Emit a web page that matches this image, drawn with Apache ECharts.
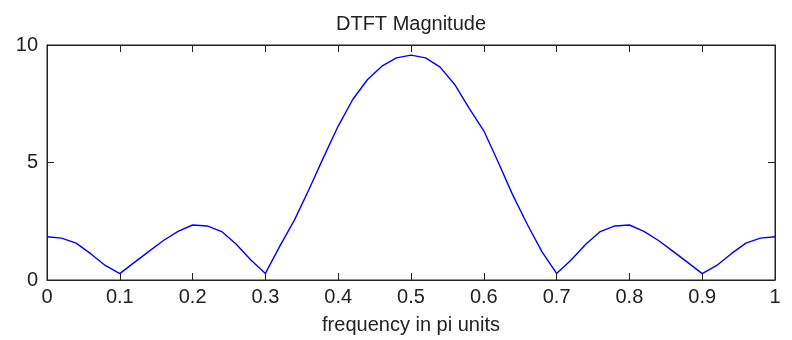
<!DOCTYPE html>
<html>
<head>
<meta charset="utf-8">
<script src="https://cdn.jsdelivr.net/npm/echarts@6/dist/echarts.min.js"></script>
<style>
  html, body { margin: 0; padding: 0; background: #fff; }
  #chart { width: 792px; height: 340px; }
</style>
</head>
<body>
<div id="chart"></div>
<script>
// frequency samples (pi units) and magnitude
const freqs = [
  0.00, 0.02, 0.04, 0.06, 0.08, 0.10, 0.12, 0.14, 0.16, 0.18,
  0.20, 0.22, 0.24, 0.26, 0.28, 0.30, 0.32, 0.34, 0.36, 0.38,
  0.40, 0.42, 0.44, 0.46, 0.48, 0.50, 0.52, 0.54, 0.56, 0.58,
  0.60, 0.62, 0.64, 0.66, 0.68, 0.70, 0.72, 0.74, 0.76, 0.78,
  0.80, 0.82, 0.84, 0.86, 0.88, 0.90, 0.92, 0.94, 0.96, 0.98, 1.00
];
const magnitude = [
  1.84, 1.78, 1.57, 1.12, 0.62, 0.27, 0.75, 1.22, 1.68, 2.07,
  2.34, 2.30, 2.06, 1.52, 0.85, 0.28, 1.45, 2.56, 3.86, 5.23,
  6.55, 7.68, 8.52, 9.10, 9.45, 9.57, 9.45, 9.06, 8.32, 7.30,
  6.35, 5.00, 3.60, 2.35, 1.20, 0.28, 0.85, 1.52, 2.06, 2.30,
  2.34, 2.07, 1.68, 1.22, 0.75, 0.27, 0.62, 1.12, 1.57, 1.78, 1.84
];

const axisColor = "#222";
const labelFont = { color: "#222", fontSize: 20, fontFamily: "Liberation Sans" };

const chart = echarts.init(document.getElementById("chart"), null, { renderer: "canvas" });

function fmtX(v) {
  const r = Math.round(v * 10) / 10;
  return r === 0 ? "0" : r === 1 ? "1" : r.toFixed(1);
}

const xCommon = {
  type: "value",
  min: 0,
  max: 1,
  interval: 0.1,
  splitLine: { show: false },
  axisLine: { show: true, onZero: false, lineStyle: { color: axisColor, width: 1 } },
  axisTick: { show: true, inside: true, length: 7, lineStyle: { color: axisColor } },
};
const yCommon = {
  type: "value",
  min: 0,
  max: 10,
  interval: 5,
  splitLine: { show: false },
  axisLine: { show: true, onZero: false, lineStyle: { color: axisColor, width: 1 } },
  axisTick: { show: true, inside: true, length: 7, lineStyle: { color: axisColor } },
};

chart.setOption({
  animation: false,
  backgroundColor: "#fff",
  title: {
    text: "DTFT Magnitude",
    left: 406,
    textAlign: "center",
    top: 9,
    textStyle: { color: "#222", fontSize: 20, fontWeight: "normal", fontFamily: "Liberation Sans" },
  },
  grid: {
    left: 47,
    right: 17,
    top: 45,
    bottom: 60,
    outerBoundsMode: "none",
    containLabel: false,
    show: true,
    borderColor: axisColor,
    borderWidth: 1,
  },
  xAxis: [
    {
      ...xCommon,
      position: "bottom",
      name: "frequency in pi units",
      nameLocation: "middle",
      nameGap: 35,
      nameTextStyle: labelFont,
      axisLabel: { ...labelFont, margin: 7, formatter: fmtX },
    },
    {
      ...xCommon,
      position: "top",
      axisLabel: { show: false },
    },
  ],
  yAxis: [
    {
      ...yCommon,
      position: "left",
      axisLabel: { ...labelFont, margin: 9 },
    },
    {
      ...yCommon,
      position: "right",
      axisLabel: { show: false },
    },
  ],
  series: [
    {
      type: "line",
      xAxisIndex: 0,
      yAxisIndex: 0,
      data: freqs.map((f, i) => [f, magnitude[i]]),
      showSymbol: false,
      smooth: false,
      lineStyle: { color: "#0000ff", width: 1.4 },
    },
  ],
});
</script>
</body>
</html>
